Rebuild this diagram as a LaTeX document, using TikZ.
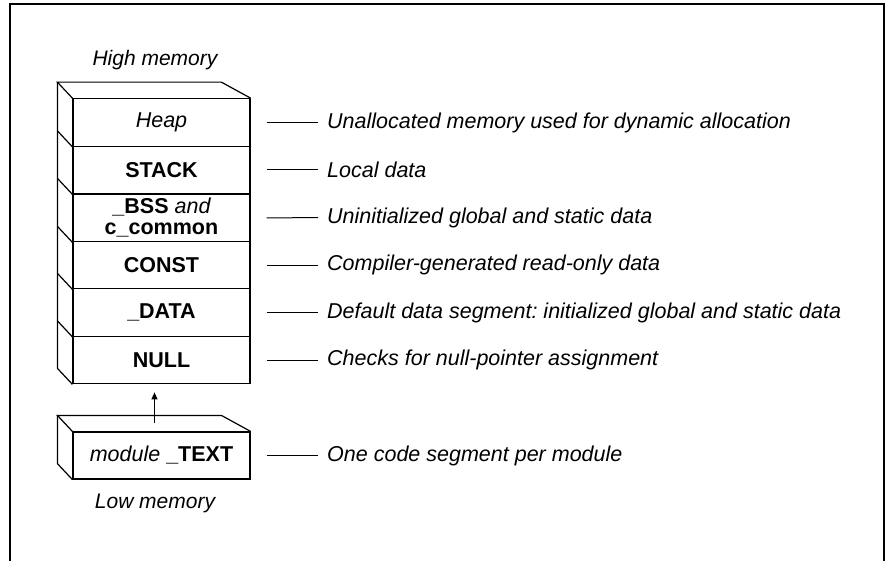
\documentclass[tikz,border=0pt]{standalone}
\usepackage{fontspec}
\setmainfont{Liberation Sans}
\usetikzlibrary{arrows.meta}
\frenchspacing
\begin{document}
\begin{tikzpicture}[x=1pt,y=-1pt,
  seg/.style={draw,line width=1.2pt,minimum width=177pt,minimum height=47.5pt,
    inner sep=0pt,align=center,font=\fontsize{21.5}{21}\selectfont\bfseries},
  edge/.style={line width=1.2pt,line join=miter},
  lbl/.style={anchor=west,inner sep=0pt,font=\fontsize{21.5}{24}\selectfont\itshape},
  tick/.style={line width=1pt},
  memcap/.style={inner sep=0pt,font=\fontsize{21}{24}\selectfont\itshape}]
\useasboundingbox (0,0) rectangle (885,561);
% open frame
\draw[line width=1.5pt] (10,561) -- (10,4) -- (884,4) -- (884,561);

\node[memcap] (high) at (155,60) {High memory};

% memory segments (front faces)
\node[seg] (heap)  at (161.5,122.5) {\mdseries\itshape Heap};
\node[seg] (stack) at (161.5,170)   {STACK};
\node[seg] (bss)   at (161.5,218) {\_BSS {\mdseries\itshape and}\\c\_common};
\node[seg] (const) at (161.5,265)   {CONST};
\node[seg] (data)  at (161.5,312.5) {\_DATA};
\node[seg] (null)  at (161.5,360)   {NULL};

% top and left faces of the stack
\draw[edge] (heap.north west) -- ++(-15,-16) -- ++(164,0) -- (heap.north east);
\draw[edge] ([shift={(-15,-16)}]heap.north west) -- ([shift={(-15,-16)}]null.south west) -- (null.south west);
\foreach \n in {heap,stack,bss,const,data}
  \draw[edge] ([shift={(-15,-16)}]\n.south west) -- (\n.south west);

% code segment block
\node[seg,minimum height=47pt] (text) at (161.5,455.5) {{\mdseries\itshape module} \_TEXT};
\draw[edge] (text.north west) -- ++(-15,-16) -- ++(164,0) -- (text.north east);
\draw[edge] ([shift={(-15,-16)}]text.north west) -- ([shift={(-15,-16)}]text.south west) -- (text.south west);
\coordinate (texttop) at ([shift={(-7,-8)}]text.north);
\draw[line width=1.1pt,-{Triangle[length=7pt,width=6pt]}] (texttop) -- ([shift={(-7,8)}]null.south);

\node[memcap] (low) at (155,503) {Low memory};

% descriptions
\node[lbl] (dheap)  at (327,122.5) {Unallocated memory used for dynamic allocation};
\node[lbl] (dstack) at (327,170)   {Local data};
\node[lbl] (dbss)   at (327,217.5) {Uninitialized global and static data};
\node[lbl] (dconst) at (327,265)   {Compiler-generated read-only data};
\node[lbl] (ddata)  at (327,312.5) {Default data segment: initialized global and static data};
\node[lbl] (dnull)  at (327,360)   {Checks for null-pointer assignment};
\node[lbl] (dtext)  at (327,455.5) {One code segment per module};

\foreach \a/\b in {heap/dheap,stack/dstack,bss/dbss,const/dconst,data/ddata,null/dnull,text/dtext}
  \draw[tick] ([xshift=16pt]\a.east) -- ([xshift=-9pt]\b.west);
\end{tikzpicture}
\end{document}
